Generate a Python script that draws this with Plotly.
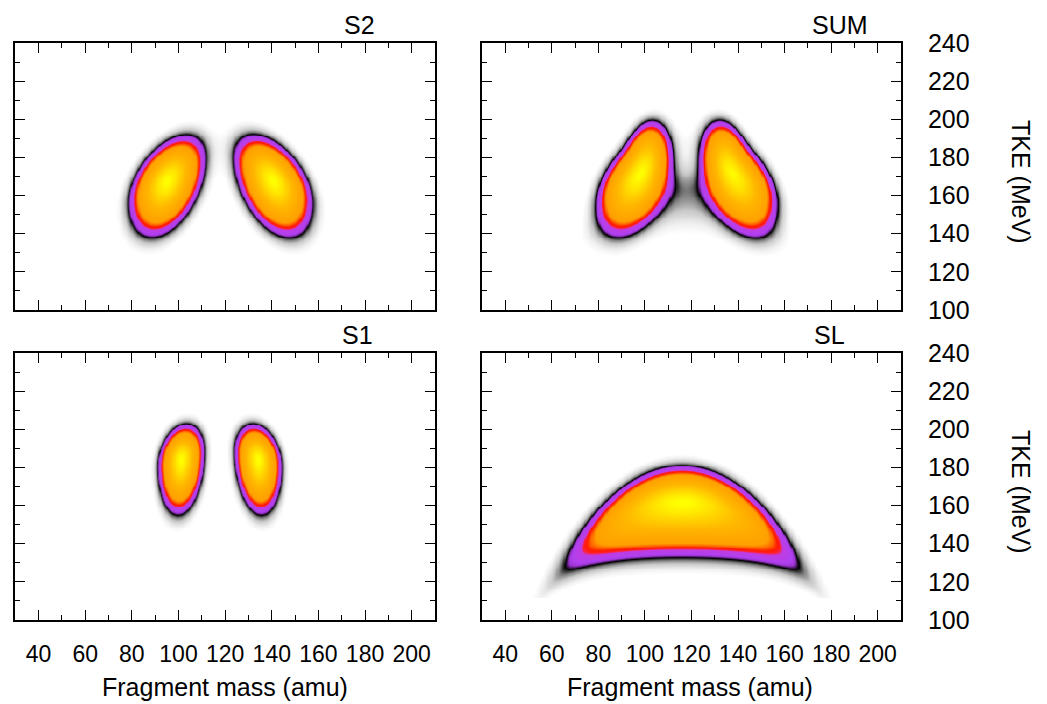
import numpy as np
import plotly.graph_objects as go

# ---------------- data ----------------
mass = np.arange(30.0, 210.01, 0.5)
tke = np.arange(100.0, 240.01, 0.5)
tke_sl = np.arange(112.0, 240.01, 0.5)   # SL map only exists above ~112 MeV

# S2 mode: light / heavy lobes
S2_A0 = [95.0, 140.5]
S2_E0 = [168.0, 168.0]
S2_sigA = [7.8, 8.0]
S2_sigE_up = [9.9, 9.9]
S2_sigE_dn = [12.8, 12.8]
S2_slope = [0.70, -0.70]

# S1 mode: light / heavy lobes
S1_A0 = [101.0, 134.0]
S1_E0 = [184.5, 184.5]
S1_sigA = [4.7, 4.8]
S1_sigE_up = [8.5, 8.5]
S1_sigE_dn = [13.6, 13.6]
S1_slope = [0.4, -0.4]

# SL mode: one broad symmetric crescent
SL_A0 = [115.75]
SL_E0 = [162.0]
SL_sigA = [23.4]
SL_sigE_up = [9.0]
SL_sigE_dn = [13.56]
SL_curv = [0.01324]
SL_dn_shrink = [1.9e-4]

# relative weights of the modes in the SUM panel
W_SUM = {"S1": 0.47, "S2": 1.0, "SL": 0.09}

panel_titles = ["S2", "SUM", "S1", "SL"]
x_tick_vals = [40, 60, 80, 100, 120, 140, 160, 180, 200]
y_tick_vals = [100, 120, 140, 160, 180, 200, 220, 240]
x_title = "Fragment mass (amu)"
y_title = "TKE (MeV)"


def lobe(A, E, A0, E0, sA, su, sd, slope=0.0, curv=0.0, shrink=0.0):
    dA = A - A0
    mu = E0 + slope * dA - curv * dA ** 2
    sdn = sd * np.clip(1.0 - shrink * dA ** 2, 0.3, None)
    dE = E - mu
    s = np.where(dE >= 0, su, sdn)
    return np.exp(-0.5 * (dA / sA) ** 2 - 0.5 * (dE / s) ** 2)


def mode_map(A, E, A0s, E0s, sAs, sus, sds, slopes=None, curvs=None, shrinks=None):
    n = len(A0s)
    slopes = slopes or [0.0] * n
    curvs = curvs or [0.0] * n
    shrinks = shrinks or [0.0] * n
    z = np.zeros_like(A)
    for i in range(n):
        z += lobe(A, E, A0s[i], E0s[i], sAs[i], sus[i], sds[i],
                  slopes[i], curvs[i], shrinks[i])
    return z


AA, EE = np.meshgrid(mass, tke)
AAs, EEs = np.meshgrid(mass, tke_sl)

s2 = mode_map(AA, EE, S2_A0, S2_E0, S2_sigA, S2_sigE_up, S2_sigE_dn, S2_slope)
s1 = mode_map(AA, EE, S1_A0, S1_E0, S1_sigA, S1_sigE_up, S1_sigE_dn, S1_slope)
sl_full = mode_map(AA, EE, SL_A0, SL_E0, SL_sigA, SL_sigE_up, SL_sigE_dn,
                   None, SL_curv, SL_dn_shrink)
sl = mode_map(AAs, EEs, SL_A0, SL_E0, SL_sigA, SL_sigE_up, SL_sigE_dn,
              None, SL_curv, SL_dn_shrink)

s2n = s2 / s2.max()
s1n = s1 / s1.max()
sln_full = sl_full / sl_full.max()
sln = sl / sl.max()
ssum = W_SUM["S1"] * s1n + W_SUM["S2"] * s2n + W_SUM["SL"] * sln_full
ssum = ssum / ssum.max()

colorscale = [
    [0.0, "#ffffff"],
    [0.02, "#ffffff"],
    [0.035, "#f0f0f0"],
    [0.06, "#c8c8c8"],
    [0.08, "#808080"],
    [0.094, "#2a2a2a"],
    [0.1, "#000000"],
    [0.107, "#3c1452"],
    [0.117, "#9a34cc"],
    [0.132, "#b040f0"],
    [0.18, "#c03ce0"],
    [0.196, "#ff2030"],
    [0.215, "#ff1a00"],
    [0.25, "#ff6a00"],
    [0.285, "#ffa000"],
    [0.6, "#ffb800"],
    [0.8, "#ffd400"],
    [0.95, "#fff000"],
    [1.0, "#ffff00"],
]

# ---------------- figure ----------------
W, H = 1047, 704
fig = go.Figure()

panels = [
    (s2n, tke, "x", "y"),
    (ssum, tke, "x2", "y2"),
    (s1n, tke, "x3", "y3"),
    (sln, tke_sl, "x4", "y4"),
]
for z, yv, xa, ya in panels:
    fig.add_trace(go.Heatmap(
        x=mass, y=yv, z=z.astype(np.float32), zmin=0, zmax=1,
        colorscale=colorscale, showscale=False, zsmooth="best",
        hoverinfo="skip", xaxis=xa, yaxis=ya))

left_px = [15.3, 435.0]
right_px = [482.0, 901.0]
top_py = [43.0, 310.0]
bot_py = [353.0, 620.0]


def xdom(p):
    return [p[0] / W, p[1] / W]


def ydom(p):
    return [1 - p[1] / H, 1 - p[0] / H]


font_family = "Liberation Sans, Arial, Helvetica, sans-serif"
tick_font_x = dict(family=font_family, size=23, color="black")
tick_font_y = dict(family=font_family, size=25, color="black")

common = dict(showline=True, linecolor="black", linewidth=1.8, mirror="ticks",
              ticks="inside", ticklen=10, tickwidth=1.3, tickcolor="black",
              showgrid=False, zeroline=False, fixedrange=True, automargin=False)


def xaxis(dom, labels, anchor):
    return dict(domain=dom, range=[30, 210], tickmode="array", tickvals=x_tick_vals,
                minor=dict(tickmode="array", tickvals=list(range(30, 211, 10)),
                           ticklen=5, ticks="inside", tickwidth=1.3, tickcolor="black"),
                showticklabels=labels, tickfont=tick_font_x, ticklabelstandoff=12,
                anchor=anchor, **common)


def yaxis(dom, labels, anchor):
    d = dict(domain=dom, range=[100, 240], tickmode="array", tickvals=y_tick_vals,
             minor=dict(tickmode="array", tickvals=list(range(100, 241, 10)),
                        ticklen=5, ticks="inside", tickwidth=1.3, tickcolor="black"),
             showticklabels=labels, tickfont=tick_font_y, anchor=anchor, **common)
    if labels:
        d["side"] = "right"
        d["ticklabelstandoff"] = 20
    return d


fig.update_layout(
    width=W, height=H,
    margin=dict(l=0, r=0, t=0, b=0, pad=0, autoexpand=False),
    paper_bgcolor="white", plot_bgcolor="white", showlegend=False,
    xaxis=xaxis(xdom(left_px), False, "y"),
    yaxis=yaxis(ydom(top_py), False, "x"),
    xaxis2=xaxis(xdom(right_px), False, "y2"),
    yaxis2=yaxis(ydom(top_py), True, "x2"),
    xaxis3=xaxis(xdom(left_px), True, "y3"),
    yaxis3=yaxis(ydom(bot_py), False, "x3"),
    xaxis4=xaxis(xdom(right_px), True, "y4"),
    yaxis4=yaxis(ydom(bot_py), True, "x4"),
)

title_font = dict(family=font_family, size=25, color="black")
title_pos = [(359, 25), (840, 25), (357, 335), (829, 335)]
annots = []
for t, (px, py) in zip(panel_titles, title_pos):
    annots.append(dict(text=t, x=px / W, y=1 - py / H, xref="paper", yref="paper",
                       xanchor="center", yanchor="middle", showarrow=False, font=title_font))
for py in (182, 492):
    annots.append(dict(text=y_title, x=1021 / W, y=1 - py / H, xref="paper", yref="paper",
                       xanchor="center", yanchor="middle", textangle=90, showarrow=False,
                       font=title_font))
for px in (225, 690):
    annots.append(dict(text=x_title, x=px / W, y=1 - 687 / H, xref="paper", yref="paper",
                       xanchor="center", yanchor="middle", showarrow=False, font=title_font))
fig.update_layout(annotations=annots)

fig.write_html("out.html", config={"displayModeBar": False},
               post_script="document.body.style.margin='0';")
